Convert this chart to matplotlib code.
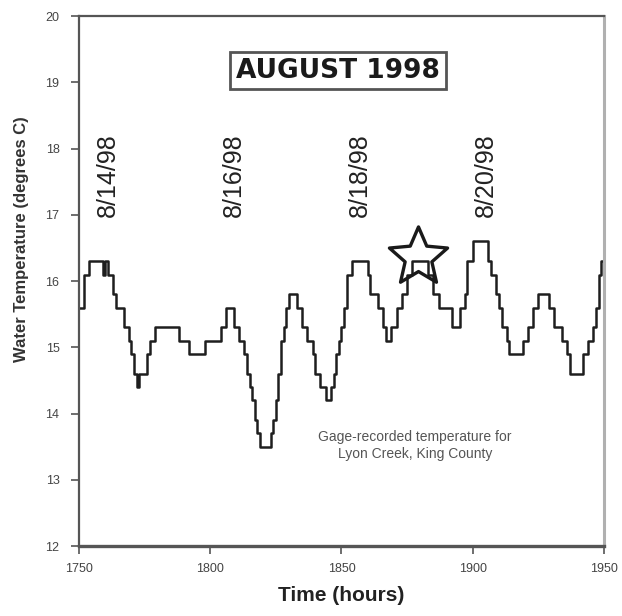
import numpy as np
import matplotlib
matplotlib.use("Agg")
import matplotlib.pyplot as plt
from matplotlib.path import Path

plt.rcParams['font.family'] = ['Liberation Sans', 'DejaVu Sans']

# gage readings: hour where a new value starts, temperature (deg C)
hours = [1750, 1752, 1754, 1759, 1760, 1761, 1763, 1764, 1767, 1769,
         1770, 1771, 1772, 1773, 1776, 1777, 1779, 1788, 1792, 1798,
         1804, 1806, 1809, 1811, 1813, 1814, 1815, 1816, 1817, 1818,
         1819, 1823, 1824, 1825, 1826, 1827, 1828, 1829, 1830, 1833,
         1835, 1837, 1839, 1840, 1842, 1844, 1846, 1847, 1848, 1849,
         1850, 1851, 1852, 1854, 1860, 1861, 1864, 1866, 1867, 1869,
         1871, 1873, 1875, 1877, 1883, 1885, 1887, 1892, 1895, 1897,
         1898, 1900, 1906, 1907, 1909, 1910, 1911, 1913, 1914, 1919,
         1921, 1923, 1925, 1929, 1931, 1934, 1936, 1937, 1942, 1944,
         1946, 1947, 1948, 1949, 1950]
temps = [15.6, 16.1, 16.3, 16.1, 16.3, 16.1, 15.8, 15.6, 15.3, 15.1,
         14.9, 14.6, 14.4, 14.6, 14.9, 15.1, 15.3, 15.1, 14.9, 15.1,
         15.3, 15.6, 15.3, 15.1, 14.9, 14.6, 14.4, 14.2, 13.9, 13.7,
         13.5, 13.7, 13.9, 14.2, 14.6, 15.1, 15.3, 15.6, 15.8, 15.6,
         15.3, 15.1, 14.9, 14.6, 14.4, 14.2, 14.4, 14.6, 14.9, 15.1,
         15.3, 15.6, 16.1, 16.3, 16.1, 15.8, 15.6, 15.3, 15.1, 15.3,
         15.6, 15.8, 16.1, 16.3, 16.1, 15.8, 15.6, 15.3, 15.6, 15.8,
         16.3, 16.6, 16.3, 16.1, 15.8, 15.6, 15.3, 15.1, 14.9, 15.1,
         15.3, 15.6, 15.8, 15.6, 15.3, 15.1, 14.9, 14.6, 14.9, 15.1,
         15.3, 15.6, 16.1, 16.3, 16.3]

date_labels = ['8/14/98', '8/16/98', '8/18/98', '8/20/98']
date_hours = [1761, 1809, 1857, 1905]

star_hour, star_temp = 1879, 16.36

# fat five-point star outline for the marker
ang = np.pi / 2 + np.arange(10) * np.pi / 5
rad = np.where(np.arange(10) % 2 == 0, 1.0, 0.46)
star_verts = np.column_stack([rad * np.cos(ang), rad * np.sin(ang)])
star_verts = np.vstack([star_verts, star_verts[:1]])
star_path = Path(star_verts, closed=True)

fig = plt.figure(figsize=(6.22, 6.16), dpi=100)
ax = fig.add_axes([0.127, 0.1136, 0.844, 0.860])

ax.plot(hours, temps, drawstyle='steps-post', color='#1e1e1e', lw=1.8)

ax.set_xlim(1750, 1950)
ax.set_ylim(12, 20)
ax.set_xticks([1750, 1800, 1850, 1900, 1950])
ax.set_yticks(range(12, 21))

for s in ['left', 'top', 'bottom']:
    ax.spines[s].set_color('#555555')
    ax.spines[s].set_linewidth(1.6)
ax.spines['right'].set_color('#b0b0b0')
ax.spines['right'].set_linewidth(2.2)
ax.spines['bottom'].set_linewidth(2.4)

ax.tick_params(axis='both', direction='out', length=6, width=1.2,
               color='#555555', labelsize=9, labelcolor='#444444')
ax.tick_params(axis='y', pad=8)
ax.tick_params(axis='x', pad=6)

ax.set_xlabel('Time (hours)', fontsize=15, fontweight='bold',
              color='#222222', labelpad=8)
ax.set_ylabel('Water Temperature (degrees C)', fontsize=12,
              fontweight='bold', color='#333333')
ax.yaxis.set_label_coords(-0.095, 0.58)

ax.text(1848.7, 19.18, 'AUGUST 1998', fontsize=19, fontweight='bold',
        family=['DejaVu Sans'], ha='center', va='center', color='#1a1a1a',
        bbox=dict(boxstyle='square,pad=0.22', fc='white',
                  ec='#555555', lw=2))

for lab, h in zip(date_labels, date_hours):
    ax.text(h, 16.97, lab, rotation=90, fontsize=18, ha='center',
            va='bottom', color='#222222')

ax.plot([star_hour], [star_temp], marker=star_path, markersize=44,
        markerfacecolor='none', markeredgecolor='#1a1a1a',
        markeredgewidth=2.4)

ax.text(1878, 13.52, 'Gage-recorded temperature for\nLyon Creek, King County',
        fontsize=10, ha='center', va='center', color='#555555',
        linespacing=1.25)

fig.savefig('out.png', dpi=100)
